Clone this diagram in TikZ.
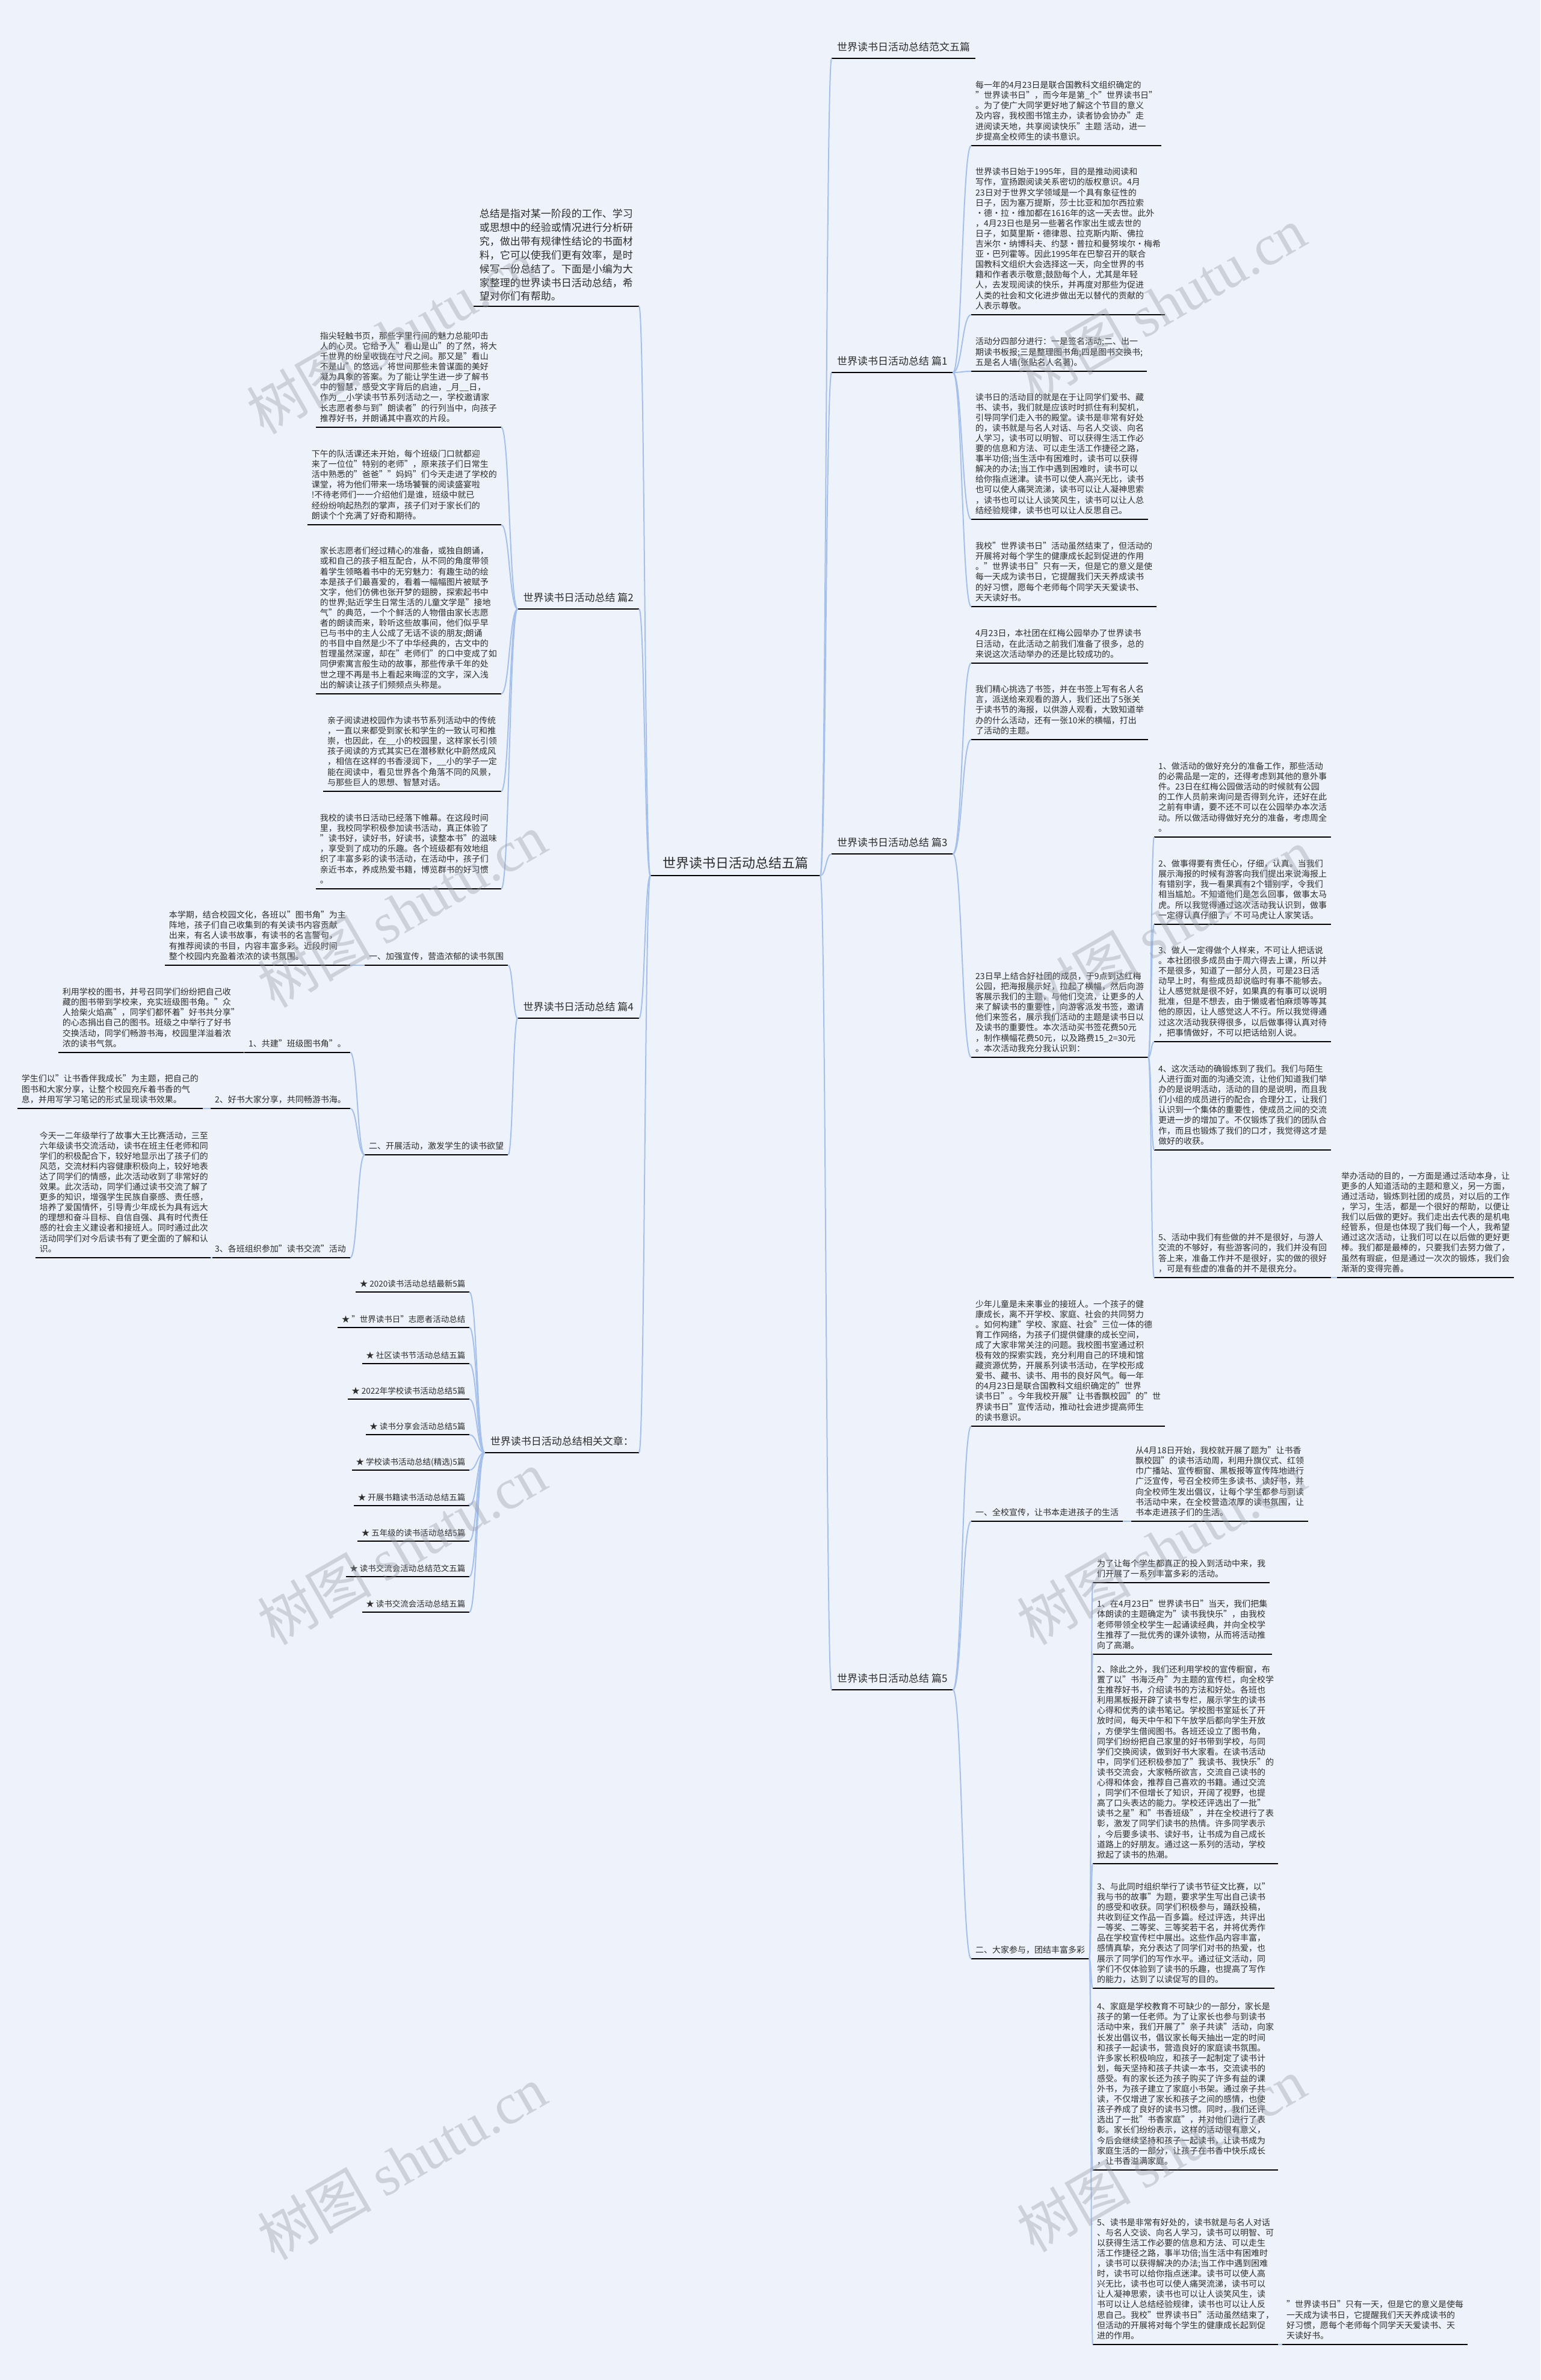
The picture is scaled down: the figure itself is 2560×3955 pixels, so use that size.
\documentclass[tikz,border=0pt]{standalone}
\usepackage{fontspec}
\setmainfont{Noto Sans CJK SC}
\newfontfamily\wmserif{Liberation Serif}
\usetikzlibrary{calc}
\definecolor{bgc}{RGB}{238,242,250}
\definecolor{connc}{RGB}{166,192,236}
\definecolor{txtc}{RGB}{45,45,45}
\definecolor{wmc}{RGB}{150,156,168}
\tikzset{
  ul/.style={append after command={(\tikzlastnode.south west) edge[draw=black,line width=2.4pt] (\tikzlastnode.south east)}},
  blk/.style={font=\fontsize{14}{17.1}\selectfont, text=txtc, align=left, inner xsep=7pt, inner ysep=4.5pt, execute at end node=\strut, ul},
  lab/.style={font=\fontsize{17}{22}\selectfont, text=txtc, align=left, inner xsep=9pt, inner ysep=5.5pt, execute at end node=\strut, ul},
  intro/.style={font=\fontsize{17}{22.9}\selectfont, text=txtc, align=left, inner xsep=10pt, inner ysep=3pt, execute at end node=\strut, ul},
  rootn/.style={font=\fontsize{22}{26}\selectfont, text=txtc, inner xsep=20pt, inner ysep=5pt, execute at end node=\strut, ul},
  itm/.style={font=\fontsize{13.5}{16}\selectfont, text=txtc, inner xsep=6.5pt, inner ysep=3.8pt, execute at end node=\strut, ul},
  fan/.style={draw=connc, line width=2pt, to path={let \p1=(\tikztostart), \p2=(\tikztotarget) in .. controls ({0.5*\x1+0.5*\x2},\y1) and ({0.5*\x1+0.5*\x2},\y2) .. (\tikztotarget)}},
  wm/.style={text=wmc, opacity=0.38, rotate=30, font=\fontsize{95}{100}\selectfont}
}
\begin{document}
\begin{tikzpicture}[x=1pt,y=-1pt]
\fill[bgc] (0,0) rectangle (2560,3955);
\useasboundingbox (0,0) rectangle (2560,3955);

% root
\node[rootn, anchor=south] (root) at (1222,1455) {世界读书日活动总结五篇};

% right level 1
\node[lab, anchor=south west] (r0) at (1382,97) {世界读书日活动总结范文五篇};
\node[lab, anchor=south west] (r1) at (1382,619) {世界读书日活动总结 篇1};
\node[lab, anchor=south west] (r3) at (1382,1419) {世界读书日活动总结 篇3};
\node[lab, anchor=south west] (r5) at (1382,2808) {世界读书日活动总结 篇5};

% left level 1
\node[intro, anchor=south east] (l0) at (1062,509) {总结是指对某一阶段的工作、学习\\或思想中的经验或情况进行分析研\\究，做出带有规律性结论的书面材\\料，它可以使我们更有效率，是时\\候写一份总结了。下面是小编为大\\家整理的世界读书日活动总结，希\\望对你们有帮助。};
\node[lab, anchor=south east] (l2) at (1062,1012) {世界读书日活动总结 篇2};
\node[lab, anchor=south east] (l4) at (1062,1692) {世界读书日活动总结 篇4};
\node[lab, anchor=south east] (l6) at (1062,2414) {世界读书日活动总结相关文章：};

% 篇1 children
\node[blk, anchor=south west] (a1) at (1614,242) {每一年的4月23日是联合国教科文组织确定的\\"世界读书日"，而今年是第\_个"世界读书日"\\。为了使广大同学更好地了解这个节目的意义\\及内容，我校图书馆主办，读者协会协办"走\\进阅读天地，共享阅读快乐"主题~活动，进一\\步提高全校师生的读书意识。};
\node[blk, anchor=south west] (a2) at (1614,523) {世界读书日始于1995年，目的是推动阅读和\\写作，宣扬跟阅读关系密切的版权意识。4月\\23日对于世界文学领域是一个具有象征性的\\日子，因为塞万提斯，莎士比亚和加尔西拉索\\·德·拉·维加都在1616年的这一天去世。此外\\，4月23日也是另一些著名作家出生或去世的\\日子，如莫里斯·德律恩、拉克斯内斯、佛拉\\吉米尔·纳博科夫、约瑟·普拉和曼努埃尔·梅希\\亚·巴列霍等。因此1995年在巴黎召开的联合\\国教科文组织大会选择这一天，向全世界的书\\籍和作者表示敬意;鼓励每个人，尤其是年轻\\人，去发现阅读的快乐，并再度对那些为促进\\人类的社会和文化进步做出无以替代的贡献的\\人表示尊敬。};
\node[blk, anchor=south west] (a3) at (1614,617) {活动分四部分进行：一是签名活动;二、出一\\期读书板报;三是整理图书角;四是图书交换书;\\五是名人墙(张贴名人名著)。};
\node[blk, anchor=south west] (a4) at (1614,863) {读书日的活动目的就是在于让同学们爱书、藏\\书、读书，我们就是应该时时抓住有利契机，\\引导同学们走入书的殿堂。读书是非常有好处\\的，读书就是与名人对话、与名人交谈、向名\\人学习，读书可以明智、可以获得生活工作必\\要的信息和方法、可以走生活工作捷径之路，\\事半功倍;当生活中有困难时，读书可以获得\\解决的办法;当工作中遇到困难时，读书可以\\给你指点迷津。读书可以使人高兴无比，读书\\也可以使人痛哭流涕，读书可以让人凝神思索\\，读书也可以让人谈笑风生，读书可以让人总\\结经验规律，读书也可以让人反思自己。};
\node[blk, anchor=south west] (a5) at (1614,1008) {我校"世界读书日"活动虽然结束了，但活动的\\开展将对每个学生的健康成长起到促进的作用\\。"世界读书日"只有一天，但是它的意义是使\\每一天成为读书日，它提醒我们天天养成读书\\的好习惯，愿每个老师每个同学天天爱读书、\\天天读好书。};

% 篇3 children
\node[blk, anchor=south west] (c1) at (1614,1102) {4月23日，本社团在红梅公园举办了世界读书\\日活动，在此活动之前我们准备了很多，总的\\来说这次活动举办的还是比较成功的。};
\node[blk, anchor=south west] (c2) at (1614,1229) {我们精心挑选了书签，并在书签上写有名人名\\言，派送给来观看的游人，我们还出了5张关\\于读书节的海报，以供游人观看，大致知道举\\办的什么活动，还有一张10米的横幅，打出\\了活动的主题。};
\node[blk, anchor=south west] (c3) at (1614,1757) {23日早上结合好社团的成员，于9点到达红梅\\公园，把海报展示好，拉起了横幅，然后向游\\客展示我们的主题，与他们交流，让更多的人\\来了解读书的重要性，向游客派发书签，邀请\\他们来签名，展示我们活动的主题是读书日以\\及读书的重要性。本次活动买书签花费50元\\，制作横幅花费50元，以及路费15\_2=30元\\。本次活动我充分我认识到：};
\node[blk, anchor=south west] (h1) at (1918,1391) {1、做活动的做好充分的准备工作，那些活动\\的必需品是一定的，还得考虑到其他的意外事\\件。23日在红梅公园做活动的时候就有公园\\的工作人员前来询问是否得到允许，还好在此\\之前有申请，要不还不可以在公园举办本次活\\动。所以做活动得做好充分的准备，考虑周全\\。};
\node[blk, anchor=south west] (h2) at (1918,1536) {2、做事得要有责任心，仔细，认真。当我们\\展示海报的时候有游客向我们提出来说海报上\\有错别字，我一看果真有2个错别字，令我们\\相当尴尬。不知道他们是怎么回事，做事太马\\虎。所以我觉得通过这次活动我认识到，做事\\一定得认真仔细了，不可马虎让人家笑话。};
\node[blk, anchor=south west] (h3) at (1918,1731) {3、做人一定得做个人样来，不可让人把话说\\。本社团很多成员由于周六得去上课，所以并\\不是很多，知道了一部分人员，可是23日活\\动早上时，有些成员却说临时有事不能够去。\\让人感觉就是很不好，如果真的有事可以说明\\批准，但是不想去，由于懒或者怕麻烦等等其\\他的原因，让人感觉这人不行。所以我觉得通\\过这次活动我获得很多，以后做事得认真对待\\，把事情做好，不可以把话给别人说。};
\node[blk, anchor=south west] (h4) at (1918,1911) {4、这次活动的确锻炼到了我们。我们与陌生\\人进行面对面的沟通交流，让他们知道我们举\\办的是说明活动，活动的目的是说明，而且我\\们小组的成员进行的配合，合理分工，让我们\\认识到一个集体的重要性，使成员之间的交流\\更进一步的增加了。不仅锻炼了我们的团队合\\作，而且也锻炼了我们的口才，我觉得这才是\\做好的收获。};
\node[blk, anchor=south west] (h5) at (1918,2123) {5、活动中我们有些做的并不是很好，与游人\\交流的不够好，有些游客问的，我们并没有回\\答上来，准备工作并不是很好，实的做的很好\\，可是有些虚的准备的并不是很充分。};
\node[blk, anchor=south west] (m1) at (2222,2123) {举办活动的目的，一方面是通过活动本身，让\\更多的人知道活动的主题和意义，另一方面，\\通过活动，锻炼到社团的成员，对以后的工作\\，学习，生活，都是一个很好的帮助，以便让\\我们以后做的更好。我们走出去代表的是机电\\经管系，但是也体现了我们每一个人，我希望\\通过这次活动，让我们可以在以后做的更好更\\棒。我们都是最棒的，只要我们去努力做了，\\虽然有瑕疵，但是通过一次次的锻炼，我们会\\渐渐的变得完善。};

% 篇2 children
\node[blk, anchor=south east] (b1) at (833,710) {指尖轻触书页，那些字里行间的魅力总能叩击\\人的心灵。它给予人"看山是山"的了然，将大\\千世界的纷呈收拢在寸尺之间。那又是"看山\\不是山"的悠远，将世间那些未曾谋面的美好\\凝为具象的答案。为了能让学生进一步了解书\\中的智慧，感受文字背后的启迪，\_月\_\_日，\\作为\_\_小学读书节系列活动之一，学校邀请家\\长志愿者参与到"朗读者"的行列当中，向孩子\\推荐好书，并朗诵其中喜欢的片段。};
\node[blk, anchor=south east] (b2) at (833,872) {下午的队活课还未开始，每个班级门口就都迎\\来了一位位"特别的老师"，原来孩子们日常生\\活中熟悉的"爸爸""妈妈"们今天走进了学校的\\课堂，将为他们带来一场场饕餮的阅读盛宴啦\\!不待老师们一一介绍他们是谁，班级中就已\\经纷纷响起热烈的掌声，孩子们对于家长们的\\朗读个个充满了好奇和期待。};
\node[blk, anchor=south east] (b3) at (833,1153) {家长志愿者们经过精心的准备，或独自朗诵，\\或和自己的孩子相互配合，从不同的角度带领\\着学生领略着书中的无穷魅力：有趣生动的绘\\本是孩子们最喜爱的，看着一幅幅图片被赋予\\文字，他们仿佛也张开梦的翅膀，探索起书中\\的世界;贴近学生日常生活的儿童文学是"接地\\气"的典范，一个个鲜活的人物借由家长志愿\\者的朗读而来，聆听这些故事间，他们似乎早\\已与书中的主人公成了无话不谈的朋友;朗诵\\的书目中自然是少不了中华经典的，古文中的\\哲理虽然深邃，却在"老师们"的口中变成了如\\同伊索寓言般生动的故事，那些传承千年的处\\世之理不再是书上看起来晦涩的文字，深入浅\\出的解读让孩子们频频点头称是。};
\node[blk, anchor=south east] (b4) at (833,1315) {亲子阅读进校园作为读书节系列活动中的传统\\，一直以来都受到家长和学生的一致认可和推\\崇，也因此，在\_\_小的校园里，这样家长引领\\孩子阅读的方式其实已在潜移默化中蔚然成风\\，相信在这样的书香浸润下，\_\_小的学子一定\\能在阅读中，看见世界各个角落不同的风景，\\与那些巨人的思想、智慧对话。};
\node[blk, anchor=south east] (b5) at (833,1477) {我校的读书日活动已经落下帷幕。在这段时间\\里，我校同学积极参加读书活动，真正体验了\\"读书好，读好书，好读书，读整本书"的滋味\\，享受到了成功的乐趣。各个班级都有效地组\\织了丰富多彩的读书活动，在活动中，孩子们\\亲近书本，养成热爱书籍，博览群书的好习惯\\。};

% 篇4 children
\node[blk, anchor=south west] (d1) at (606,1604) {一、加强宣传，营造浓郁的读书氛围};
\node[blk, anchor=south west] (d2) at (606,1919) {二、开展活动，激发学生的读书欲望};
\node[blk, anchor=south east] (d1a) at (582,1604) {本学期，结合校园文化，各班以"图书角"为主\\阵地，孩子们自己收集到的有关读书内容贡献\\出来，有名人读书故事，有读书的名言警句，\\有推荐阅读的书目，内容丰富多彩。近段时间\\整个校园内充盈着浓浓的读书氛围。};
\node[blk, anchor=south east] (e1) at (582,1749) {1、共建"班级图书角"。};
\node[blk, anchor=south east] (e2) at (582,1842) {2、好书大家分享，共同畅游书海。};
\node[blk, anchor=south east] (e3) at (582,2090) {3、各班组织参加"读书交流"活动};
\node[blk, anchor=south east] (e1a) at (405,1749) {利用学校的图书，并号召同学们纷纷把自己收\\藏的图书带到学校来，充实班级图书角。"众\\人拾柴火焰高"，同学们都怀着"好书共分享"\\的心态捐出自己的图书。班级之中举行了好书\\交换活动，同学们畅游书海，校园里洋溢着浓\\浓的读书气氛。};
\node[blk, anchor=south east] (e2a) at (337,1842) {学生们以"让书香伴我成长"为主题，把自己的\\图书和大家分享，让整个校园充斥着书香的气\\息，并用写学习笔记的形式呈现读书效果。};
\node[blk, anchor=south east] (e3a) at (353,2090) {今天一二年级举行了故事大王比赛活动，三至\\六年级读书交流活动，读书在班主任老师和同\\学们的积极配合下，较好地显示出了孩子们的\\风范，交流材料内容健康积极向上，较好地表\\达了同学们的情感，此次活动收到了非常好的\\效果。此次活动，同学们通过读书交流了解了\\更多的知识，增强学生民族自豪感、责任感，\\培养了爱国情怀，引导青少年成长为具有远大\\的理想和奋斗目标、自信自强、具有时代责任\\感的社会主义建设者和接班人。同时通过此次\\活动同学们对今后读书有了更全面的了解和认\\识。};

% related list
\node[itm, anchor=south east] (s1) at (780,2147) {★ 2020读书活动总结最新5篇};
\node[itm, anchor=south east] (s2) at (780,2206) {★ "世界读书日"志愿者活动总结};
\node[itm, anchor=south east] (s3) at (780,2266) {★ 社区读书节活动总结五篇};
\node[itm, anchor=south east] (s4) at (780,2325) {★ 2022年学校读书活动总结5篇};
\node[itm, anchor=south east] (s5) at (780,2384) {★ 读书分享会活动总结5篇};
\node[itm, anchor=south east] (s6) at (780,2443) {★ 学校读书活动总结(精选)5篇};
\node[itm, anchor=south east] (s7) at (780,2502) {★ 开展书籍读书活动总结五篇};
\node[itm, anchor=south east] (s8) at (780,2561) {★ 五年级的读书活动总结5篇};
\node[itm, anchor=south east] (s9) at (780,2620) {★ 读书交流会活动总结范文五篇};
\node[itm, anchor=south east] (s10) at (780,2679) {★ 读书交流会活动总结五篇};

% 篇5 children
\node[blk, anchor=south west] (o1) at (1614,2370) {少年儿童是未来事业的接班人。一个孩子的健\\康成长，离不开学校、家庭、社会的共同努力\\。如何构建"学校、家庭、社会"三位一体的德\\育工作网络，为孩子们提供健康的成长空间，\\成了大家非常关注的问题。我校图书室通过积\\极有效的探索实践，充分利用自己的环境和馆\\藏资源优势，开展系列读书活动，在学校形成\\爱书、藏书、读书、用书的良好风气。每一年\\的4月23日是联合国教科文组织确定的"世界\\读书日"。今年我校开展"让书香飘校园"的"世\\界读书日"宣传活动，推动社会进步提高师生\\的读书意识。};
\node[blk, anchor=south west] (f1) at (1614,2528) {一、全校宣传，让书本走进孩子的生活};
\node[blk, anchor=south west] (f1a) at (1880,2528) {从4月18日开始，我校就开展了题为"让书香\\飘校园"的读书活动周，利用升旗仪式、红领\\巾广播站、宣传橱窗、黑板报等宣传阵地进行\\广泛宣传，号召全校师生多读书、读好书，并\\向全校师生发出倡议，让每个学生都参与到读\\书活动中来，在全校营造浓厚的读书氛围，让\\书本走进孩子们的生活。};
\node[blk, anchor=south west] (f2) at (1614,3255) {二、大家参与，团结丰富多彩};
\node[blk, anchor=south west] (q1) at (1816,2630) {为了让每个学生都真正的投入到活动中来，我\\们开展了一系列丰富多彩的活动。};
\node[blk, anchor=south west] (q2) at (1816,2749) {1、在4月23日"世界读书日"当天，我们把集\\体朗读的主题确定为"读书我快乐"，由我校\\老师带领全校学生一起诵读经典，并向全校学\\生推荐了一批优秀的课外读物，从而将活动推\\向了高潮。};
\node[blk, anchor=south west] (q3) at (1816,3097) {2、除此之外，我们还利用学校的宣传橱窗，布\\置了以"书海泛舟"为主题的宣传栏，向全校学\\生推荐好书，介绍读书的方法和好处。各班也\\利用黑板报开辟了读书专栏，展示学生的读书\\心得和优秀的读书笔记。学校图书室延长了开\\放时间，每天中午和下午放学后都向学生开放\\，方便学生借阅图书。各班还设立了图书角，\\同学们纷纷把自己家里的好书带到学校，与同\\学们交换阅读，做到好书大家看。在读书活动\\中，同学们还积极参加了"我读书、我快乐"的\\读书交流会，大家畅所欲言，交流自己读书的\\心得和体会，推荐自己喜欢的书籍。通过交流\\，同学们不但增长了知识，开阔了视野，也提\\高了口头表达的能力。学校还评选出了一批"\\读书之星"和"书香班级"，并在全校进行了表\\彰，激发了同学们读书的热情。许多同学表示\\，今后要多读书、读好书，让书成为自己成长\\道路上的好朋友。通过这一系列的活动，学校\\掀起了读书的热潮。};
\node[blk, anchor=south west] (q4) at (1816,3304) {3、与此同时组织举行了读书节征文比赛，以"\\我与书的故事"为题，要求学生写出自己读书\\的感受和收获。同学们积极参与，踊跃投稿，\\共收到征文作品一百多篇。经过评选，共评出\\一等奖、二等奖、三等奖若干名，并将优秀作\\品在学校宣传栏中展出。这些作品内容丰富，\\感情真挚，充分表达了同学们对书的热爱，也\\展示了同学们的写作水平。通过征文活动，同\\学们不仅体验到了读书的乐趣，也提高了写作\\的能力，达到了以读促写的目的。};
\node[blk, anchor=south west] (q5) at (1816,3606) {4、家庭是学校教育不可缺少的一部分，家长是\\孩子的第一任老师。为了让家长也参与到读书\\活动中来，我们开展了"亲子共读"活动，向家\\长发出倡议书，倡议家长每天抽出一定的时间\\和孩子一起读书，营造良好的家庭读书氛围。\\许多家长积极响应，和孩子一起制定了读书计\\划，每天坚持和孩子共读一本书，交流读书的\\感受。有的家长还为孩子购买了许多有益的课\\外书，为孩子建立了家庭小书架。通过亲子共\\读，不仅增进了家长和孩子之间的感情，也使\\孩子养成了良好的读书习惯。同时，我们还评\\选出了一批"书香家庭"，并对他们进行了表\\彰。家长们纷纷表示，这样的活动很有意义，\\今后会继续坚持和孩子一起读书，让读书成为\\家庭生活的一部分，让孩子在书香中快乐成长\\，让书香溢满家庭。};
\node[blk, anchor=south west] (q6) at (1816,3896) {5、读书是非常有好处的，读书就是与名人对话\\、与名人交谈、向名人学习，读书可以明智、可\\以获得生活工作必要的信息和方法、可以走生\\活工作捷径之路，事半功倍;当生活中有困难时\\，读书可以获得解决的办法;当工作中遇到困难\\时，读书可以给你指点迷津。读书可以使人高\\兴无比，读书也可以使人痛哭流涕，读书可以\\让人凝神思索，读书也可以让人谈笑风生，读\\书可以让人总结经验规律，读书也可以让人反\\思自己。我校"世界读书日"活动虽然结束了，\\但活动的开展将对每个学生的健康成长起到促\\进的作用。};
\node[blk, anchor=south west] (q6a) at (2131,3896) {"世界读书日"只有一天，但是它的意义是使每\\一天成为读书日，它提醒我们天天养成读书的\\好习惯，愿每个老师每个同学天天爱读书、天\\天读好书。};

% connectors root
\foreach \t in {r0,r1,r3,r5} \draw[fan] (root.south east) to (\t.south west);
\foreach \t in {l0,l2,l4,l6} \draw[fan] (root.south west) to (\t.south east);
% right
\foreach \t in {a1,a2,a3,a4,a5} \draw[fan] (r1.south east) to (\t.south west);
\foreach \t in {c1,c2,c3} \draw[fan] (r3.south east) to (\t.south west);
\foreach \t in {h1,h2,h3,h4,h5} \draw[fan] (c3.south east) to (\t.south west);
\draw[fan] (h5.south east) to (m1.south west);
\foreach \t in {o1,f1,f2} \draw[fan] (r5.south east) to (\t.south west);
\draw[fan] (f1.south east) to (f1a.south west);
\foreach \t in {q1,q2,q3,q4,q5,q6} \draw[fan] (f2.south east) to (\t.south west);
\draw[fan] (q6.south east) to (q6a.south west);
% left
\foreach \t in {b1,b2,b3,b4,b5} \draw[fan] (l2.south west) to (\t.south east);
\foreach \t in {d1,d2} \draw[fan] (l4.south west) to (\t.south east);
\draw[fan] (d1.south west) to (d1a.south east);
\foreach \t in {e1,e2,e3} \draw[fan] (d2.south west) to (\t.south east);
\draw[fan] (e1.south west) to (e1a.south east);
\draw[fan] (e2.south west) to (e2a.south east);
\draw[fan] (e3.south west) to (e3a.south east);
\foreach \t in {s1,s2,s3,s4,s5,s6,s7,s8,s9,s10} \draw[fan] (l6.south west) to (\t.south east);

% watermarks
\foreach \p [count=\i] in {(650,560),(1930,505),(668,1513),(1942,1538),(668,2572),(1930,2572),(668,3594),(1930,3581)}
  \node[wm] (wm\i) at \p {树图 {\wmserif shutu.cn}};
\end{tikzpicture}
\end{document}
